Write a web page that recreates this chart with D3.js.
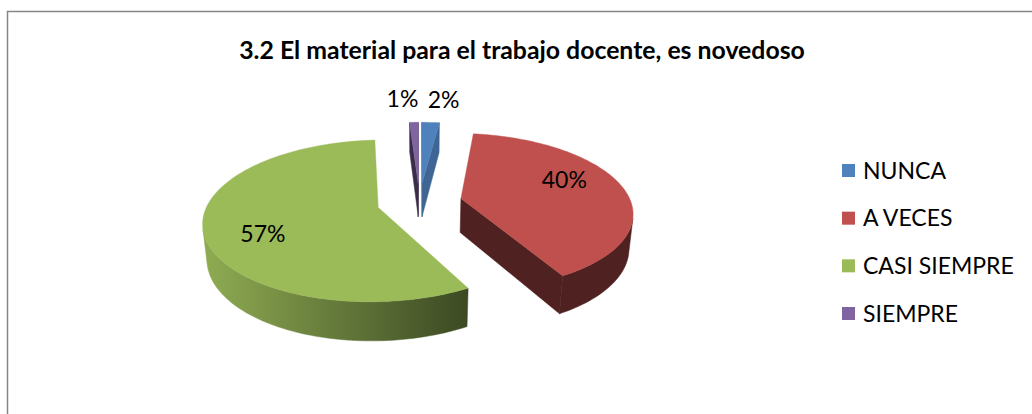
<!DOCTYPE html>
<html><head><meta charset="utf-8">
<script src="https://cdn.jsdelivr.net/npm/d3@7"></script>
<style>html,body{margin:0;padding:0;background:#fff;} svg{display:block;}</style>
</head><body>
<svg id="chart" width="1032" height="414"></svg>
<script>
const title = "3.2 El material para el trabajo docente, es novedoso";
const categories = ["NUNCA", "A VECES", "CASI SIEMPRE", "SIEMPRE"];
const values = [2, 40, 57, 1];
const colors = ["#4F81BD", "#C0504D", "#9BBB59", "#8064A2"];

const svg = d3.select("#chart");
const font = "Lato, 'Open Sans', sans-serif";

// chart frame
svg.append("rect").attr("x", 7.5).attr("y", 11.5).attr("width", 1040).attr("height", 420)
  .attr("fill", "#fff").attr("stroke", "#868686").attr("stroke-width", 1.5);

// title
svg.append("text").attr("x", 522).attr("y", 50).attr("dy", "0.35em")
  .attr("text-anchor", "middle").attr("font-family", font).attr("font-weight", "bold")
  .attr("font-size", 24.8).attr("fill", "#000").text(title);

// 3D perspective camera
const cam = {cx: 419.5, cy: 202, k: 921, D: 5.42, tilt: 26.9 * Math.PI / 180};
const sT = Math.sin(cam.tilt), cT = Math.cos(cam.tilt);
const thick = 0.23, explode = 0.25;
function proj(p) {
  const [X, Y, Z] = p;
  const d = cam.D + Z * cT - Y * sT;
  return [cam.cx + cam.k * X / d, cam.cy - cam.k * (Y * cT + Z * sT) / d];
}
const camPos = [0, cam.D * sT, -cam.D * cT];
const dist = p => Math.hypot(p[0] - camPos[0], p[1] - camPos[1], p[2] - camPos[2]);
const facing = (n, p) => n[0] * (camPos[0] - p[0]) + n[1] * (camPos[1] - p[1]) + n[2] * (camPos[2] - p[2]) > 0;
const line = pts => "M" + pts.map(p => proj(p).map(v => v.toFixed(2)).join(",")).join("L") + "Z";

const total = d3.sum(values);
const pct = d3.format(".0%");
const arcs = d3.pie().sort(null).value(d => d)(values);

const defs = svg.append("defs");
const walls = [], tops = [], labels = [];

function wallFill(i, xs) {
  const base = d3.color(colors[i]);
  const f = (c, k) => d3.rgb(c.r * k, c.g * k, c.b * k).formatHex();
  if (categories[i] === "CASI SIEMPRE") {
    const id = "wallgrad" + i;
    const g = defs.append("linearGradient").attr("id", id).attr("gradientUnits", "userSpaceOnUse")
      .attr("x1", d3.min(xs)).attr("x2", d3.max(xs)).attr("y1", 0).attr("y2", 0);
    g.append("stop").attr("offset", 0).attr("stop-color", f(base, 0.92));
    g.append("stop").attr("offset", 0.45).attr("stop-color", f(base, 0.68));
    g.append("stop").attr("offset", 1).attr("stop-color", f(base, 0.39));
    return "url(#" + id + ")";
  }
  if (categories[i] === "NUNCA") return f(base, 0.78);
  if (categories[i] === "SIEMPRE") return f(base, 0.45);
  return f(base, 0.41);
}

arcs.forEach((a, i) => {
  const mid = (a.startAngle + a.endAngle) / 2;
  const ox = explode * Math.sin(mid), oz = explode * Math.cos(mid);
  const rim = (ang, Y, r = 1) => [ox + r * Math.sin(ang), Y, oz + r * Math.cos(ang)];
  const span = a.endAngle - a.startAngle;
  const n = Math.max(2, Math.ceil(span / (Math.PI / 120)));
  const angs = d3.range(n + 1).map(j => a.startAngle + span * j / n);
  const faces = [];
  // outer curved wall: merge contiguous camera-facing segments into one polygon
  let run = [];
  const flush = () => {
    if (run.length) {
      const topArc = run.map(g => rim(g, 0));
      const botArc = run.slice().reverse().map(g => rim(g, -thick));
      const c = rim(run[Math.floor(run.length / 2)], -thick / 2);
      faces.push({pts: [...topArc, ...botArc], depth: dist(c)});
    }
    run = [];
  };
  for (let j = 0; j < n; j++) {
    const am = (angs[j] + angs[j + 1]) / 2;
    const nrm = [Math.sin(am), 0, Math.cos(am)];
    if (facing(nrm, rim(am, -thick / 2))) {
      if (!run.length) run.push(angs[j]);
      run.push(angs[j + 1]);
    } else flush();
  }
  flush();
  // radial cut walls
  const apexT = [ox, 0, oz], apexB = [ox, -thick, oz];
  [[a.startAngle, [-Math.cos(a.startAngle), 0, Math.sin(a.startAngle)]],
   [a.endAngle, [Math.cos(a.endAngle), 0, -Math.sin(a.endAngle)]]].forEach(([ang, nrm]) => {
    const c = rim(ang, -thick / 2, 0.5);
    if (facing(nrm, c)) faces.push({pts: [apexT, rim(ang, 0), rim(ang, -thick), apexB], depth: dist(c)});
  });
  const xs = faces.flatMap(fc => fc.pts.map(p => proj(p)[0]));
  const fill = faces.length ? wallFill(i, xs) : null;
  faces.forEach(fc => walls.push({...fc, fill}));
  tops.push({pts: [apexT, ...angs.map(g => rim(g, 0))], fill: colors[i]});

  const share = a.value / total;
  if (share >= 0.05) {
    const la = mid - 11 * Math.PI / 180;
    const p = proj(rim(la, 0, 0.7));
    labels.push({x: p[0], y: p[1], anchor: "middle", text: pct(share)});
  } else {
    const p = proj(rim(mid, 0, 1.46));
    const right = Math.sin(mid) >= 0;
    labels.push({x: p[0] + (right ? -6 : 6), y: p[1], anchor: right ? "start" : "end", text: pct(share)});
  }
});

walls.sort((a, b) => b.depth - a.depth);
const pie = svg.append("g");
pie.selectAll("path.wall").data(walls).join("path").attr("class", "wall")
  .attr("d", d => line(d.pts)).attr("fill", d => d.fill).attr("stroke", d => d.fill)
  .attr("stroke-width", 0.5).attr("stroke-linejoin", "round");
pie.selectAll("path.top").data(tops).join("path").attr("class", "top")
  .attr("d", d => line(d.pts)).attr("fill", d => d.fill).attr("stroke", d => d.fill)
  .attr("stroke-width", 0.4).attr("stroke-linejoin", "round");

svg.append("g").selectAll("text").data(labels).join("text")
  .attr("x", d => d.x).attr("y", d => d.y).attr("dy", "0.35em").attr("text-anchor", d => d.anchor)
  .attr("font-family", font).attr("font-size", 23).attr("fill", "#000").text(d => d.text);

// legend
const ly = d3.scaleLinear().domain([0, categories.length - 1]).range([170.5, 313.5]);
const lg = svg.append("g");
categories.forEach((c, i) => {
  lg.append("rect").attr("x", 842).attr("y", ly(i) - 6.5).attr("width", 13).attr("height", 13).attr("fill", colors[i]);
  lg.append("text").attr("x", 863).attr("y", ly(i)).attr("dy", "0.35em")
    .attr("font-family", font).attr("font-size", 23).attr("fill", "#000").text(c);
});
</script>
</body></html>
